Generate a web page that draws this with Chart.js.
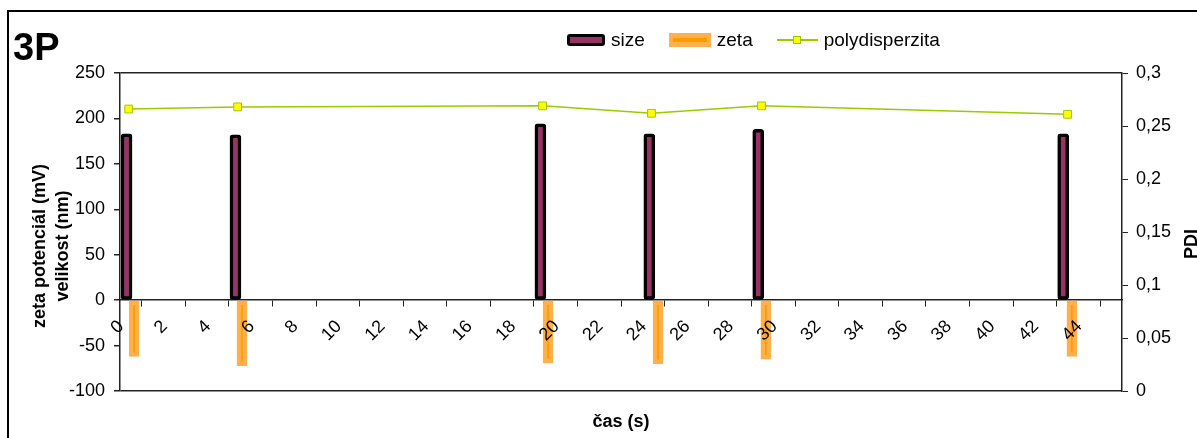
<!DOCTYPE html>
<html lang="cs">
<head>
<meta charset="UTF-8">
<title>3P</title>
<script src="https://cdn.jsdelivr.net/npm/chart.js@4.4.3/dist/chart.umd.min.js"></script>
<style>
  body { margin: 0; background: #fff; font-family: Arial, "Liberation Sans", sans-serif; }
  #wrap { position: relative; width: 1197px; height: 438px; overflow: hidden; background: #fff; }
  #frame { position: absolute; left: 7px; top: 10px; width: 1200px; height: 440px; border-left: 2px solid #000; border-top: 2px solid #000; }
  canvas { position: absolute; left: 0; top: 0; }
  .lbl { position: absolute; font-weight: bold; color: #000; white-space: nowrap; }
  #title { left: 13px; top: 28px; font-size: 38px; line-height: 38px; }
  #ytitle { left: 51px; top: 246px; font-size: 18px; line-height: 23px; text-align: center; transform: translate(-50%, -50%) rotate(-90deg); }
  #xtitle { left: 621px; top: 421px; font-size: 18px; transform: translate(-50%, -50%); }
  #pdititle { left: 1191px; top: 244px; font-size: 18px; transform: translate(-50%, -50%) rotate(-90deg); }
  #legend { position: absolute; left: 567px; top: 29px; height: 22px; display: flex; align-items: center; font-size: 19px; color: #000; }
  .item { display: flex; align-items: center; margin-right: 24px; }
  .sw { position: relative; margin-right: 6px; box-sizing: border-box; }
  .sw-size { width: 38px; height: 12px; background: #993366; border: 3px solid #000; border-radius: 3px; }
  .sw-zeta { width: 42px; height: 14px; background: #FFB048; }
  .sw-zeta::after { content: ""; position: absolute; left: 4px; right: 4px; top: 5px; height: 4px; background: #FF9900; }
  .sw-pdi { width: 41px; height: 10px; }
  .sw-pdi::before { content: ""; position: absolute; left: 0; right: 0; top: 4px; height: 2px; background: #99CC00; }
  .sw-pdi::after { content: ""; position: absolute; left: 16px; top: 1px; width: 6px; height: 6px; background: #FFFF00; border: 1px solid #99CC00; }
</style>
</head>
<body>
<div id="wrap">
  <canvas id="chart" width="1197" height="438"></canvas>
  <div id="frame"></div>
  <div id="title" class="lbl"></div>
  <div id="legend"></div>
  <div id="ytitle" class="lbl"></div>
  <div id="xtitle" class="lbl"></div>
  <div id="pdititle" class="lbl"></div>
</div>
<script>
const chartTitle = '3P';
const seriesNames = ['size', 'zeta', 'polydisperzita'];
const yTitleLines = ['zeta potenciál (mV)', 'velikost (nm)'];
const xTitle = 'čas (s)';
const y1Title = 'PDI';

const sizeTime = [0.3, 5.3, 19.3, 24.3, 29.3, 43.3];
const sizeNm = [183, 182, 194, 183, 188, 183];
const zetaTime = [0.65, 5.6, 19.65, 24.7, 29.65, 43.7];
const zetaMv = [-62, -72, -69, -70, -65, -62];
const pdiTime = [0.4, 5.4, 19.4, 24.4, 29.45, 43.5];
const pdiValue = [0.266, 0.268, 0.269, 0.262, 0.269, 0.261];

const xTicksMax = 44;

function points(xs, ys) {
  return xs.map((x, i) => ({ x: x, y: ys[i] }));
}

// html texts
document.getElementById('title').textContent = chartTitle;
document.getElementById('ytitle').innerHTML = yTitleLines.join('<br>');
document.getElementById('xtitle').textContent = xTitle;
document.getElementById('pdititle').textContent = y1Title;
const legend = document.getElementById('legend');
['sw-size', 'sw-zeta', 'sw-pdi'].forEach((cls, i) => {
  const item = document.createElement('div');
  item.className = 'item';
  const sw = document.createElement('div');
  sw.className = 'sw ' + cls;
  const txt = document.createElement('span');
  txt.textContent = seriesNames[i];
  item.appendChild(sw);
  item.appendChild(txt);
  legend.appendChild(item);
});

Chart.defaults.font.family = 'Arial, "Liberation Sans", sans-serif';
Chart.defaults.font.size = 18;
Chart.defaults.color = '#000';

const axisColor = '#222';

new Chart(document.getElementById('chart'), {
  type: 'bar',
  data: {
    datasets: [
      {
        type: 'line',
        label: seriesNames[2],
        data: points(pdiTime, pdiValue),
        yAxisID: 'y1',
        borderColor: '#99CC00',
        borderWidth: 1.5,
        pointStyle: 'rect',
        pointRadius: 5.5,
        pointBackgroundColor: '#FFFF00',
        pointBorderColor: '#99CC00',
        pointBorderWidth: 1,
        order: 0
      },
      {
        label: seriesNames[0],
        data: points(sizeTime, sizeNm),
        yAxisID: 'y',
        backgroundColor: '#993366',
        borderColor: '#000',
        borderWidth: 3.5,
        borderSkipped: false,
        borderRadius: 3,
        barThickness: 11,
        grouped: false,
        order: 1
      },
      {
        label: seriesNames[1],
        data: points(zetaTime, zetaMv),
        yAxisID: 'y',
        backgroundColor: '#FF9900',
        borderColor: '#FFB048',
        borderWidth: 4.5,
        borderSkipped: false,
        barThickness: 10,
        grouped: false,
        order: 2
      }
    ]
  },
  options: {
    responsive: false,
    animation: false,
    layout: { padding: { left: 0, right: 0, top: 73, bottom: 47 } },
    plugins: { legend: { display: false }, tooltip: { enabled: false } },
    scales: {
      x: {
        type: 'linear',
        position: { y: 0 },
        min: 0,
        max: 46,
        offset: false,
        afterBuildTicks: s => { s.ticks = s.ticks.filter(t => t.value <= xTicksMax); },
        ticks: { z: 1, stepSize: 2, minRotation: 45, maxRotation: 45, padding: 10, labelOffset: 1, autoSkip: false },
        grid: { drawOnChartArea: false, color: axisColor, tickLength: 6 },
        border: { color: axisColor, width: 1.5 }
      },
      y: {
        min: -100,
        max: 250,
        ticks: { stepSize: 50, padding: 9 },
        grid: {
          color: c => (c.tick && (c.tick.value === 250 || c.tick.value === -100)) ? axisColor : 'rgba(0,0,0,0)',
          tickColor: axisColor,
          tickLength: 6,
          lineWidth: 1.5
        },
        border: { color: axisColor, width: 1.5 },
        afterFit: s => { s.width = 120; }
      },
      y1: {
        position: 'right',
        min: 0,
        max: 0.3,
        ticks: {
          stepSize: 0.05,
          padding: 8,
          callback: v => String(Math.round(v * 100) / 100).replace('.', ',')
        },
        grid: { drawOnChartArea: false, color: axisColor, tickLength: 6 },
        border: { color: axisColor, width: 1.5 },
        afterFit: s => { s.width = 75; }
      }
    }
  }
});
</script>
</body>
</html>
